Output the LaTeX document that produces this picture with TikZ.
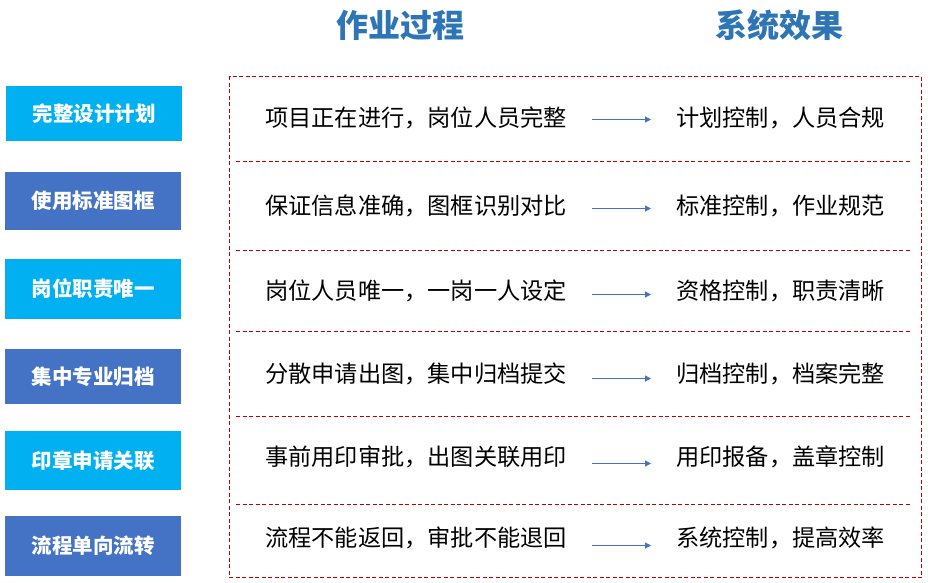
\documentclass[tikz,border=0pt]{standalone}
\usepackage{fontspec}
\setmainfont{Noto Sans CJK SC}
\usetikzlibrary{arrows.meta}
\definecolor{cyanbox}{HTML}{00B0F0}
\definecolor{bluebox}{HTML}{4472C4}
\definecolor{titleblue}{HTML}{2E75B6}
\definecolor{dashred}{HTML}{C00000}
\begin{document}
\begin{tikzpicture}[x=1pt,y=-1pt,
  lbox/.style={minimum width=176pt,minimum height=#1,inner sep=0pt,font=\fontsize{20.5}{24}\selectfont\bfseries,text=white},
  ptext/.style={anchor=west,inner sep=0pt,font=\fontsize{23.2}{27}\selectfont,text=black},
  ttl/.style={inner sep=0pt,font=\fontsize{32}{36}\selectfont\bfseries,text=titleblue},
  sep/.style={draw=dashred,line width=1pt,dash pattern=on 4pt off 2.5pt},
  arr/.style={draw=bluebox,line width=1pt,-{Triangle[length=6pt,width=6pt]}}]
\useasboundingbox (0,0) rectangle (928,583);
% titles
\node[ttl] (t1) at (400,25) {作业过程};
\node[ttl] (t2) at (779,25) {系统效果};
% dashed frame
\coordinate (fr1) at (229.5,76.5);
\coordinate (fr2) at (921.5,577.5);
\draw[sep] (fr1) rectangle (fr2);
\foreach \y [count=\i] in {161.5,250.5,331.5,416.5,504.5}{
  \coordinate (sl\i) at (236,\y);
  \coordinate (sr\i) at (911,\y);
  \draw[sep] (sl\i) -- (sr\i);
}
% left boxes
\node[lbox=55pt,fill=cyanbox] (b1) at (94,113.5) {完整设计计划};
\node[lbox=58pt,fill=bluebox] (b2) at (93,201) {使用标准图框};
\node[lbox=60pt,fill=cyanbox] (b3) at (93,289) {岗位职责唯一};
\node[lbox=55pt,fill=bluebox] (b4) at (93,376.5) {集中专业归档};
\node[lbox=59pt,fill=cyanbox] (b5) at (93,460.5) {印章申请关联};
\node[lbox=60pt,fill=bluebox] (b6) at (93,546) {流程单向流转};
% process texts
\node[ptext] (p1) at (265,118) {项目正在进行，岗位人员完整};
\node[ptext] (p2) at (265,206) {保证信息准确，图框识别对比};
\node[ptext] (p3) at (265,291) {岗位人员唯一，一岗一人设定};
\node[ptext] (p4) at (265,374) {分散申请出图，集中归档提交};
\node[ptext] (p5) at (265,457) {事前用印审批，出图关联用印};
\node[ptext] (p6) at (265,538) {流程不能返回，审批不能退回};
% result texts
\node[ptext] (r1) at (676,118) {计划控制，人员合规};
\node[ptext] (r2) at (676,206) {标准控制，作业规范};
\node[ptext] (r3) at (676,291) {资格控制，职责清晰};
\node[ptext] (r4) at (676,374) {归档控制，档案完整};
\node[ptext] (r5) at (676,457) {用印报备，盖章控制};
\node[ptext] (r6) at (676,538) {系统控制，提高效率};
% arrows
\foreach \y [count=\i] in {119.5,208.5,294.5,378.5,463.5,545.5}{
  \coordinate (as\i) at (592,\y);
  \coordinate (ae\i) at (651,\y);
  \draw[arr] (as\i) -- (ae\i);
}
\end{tikzpicture}
\end{document}
